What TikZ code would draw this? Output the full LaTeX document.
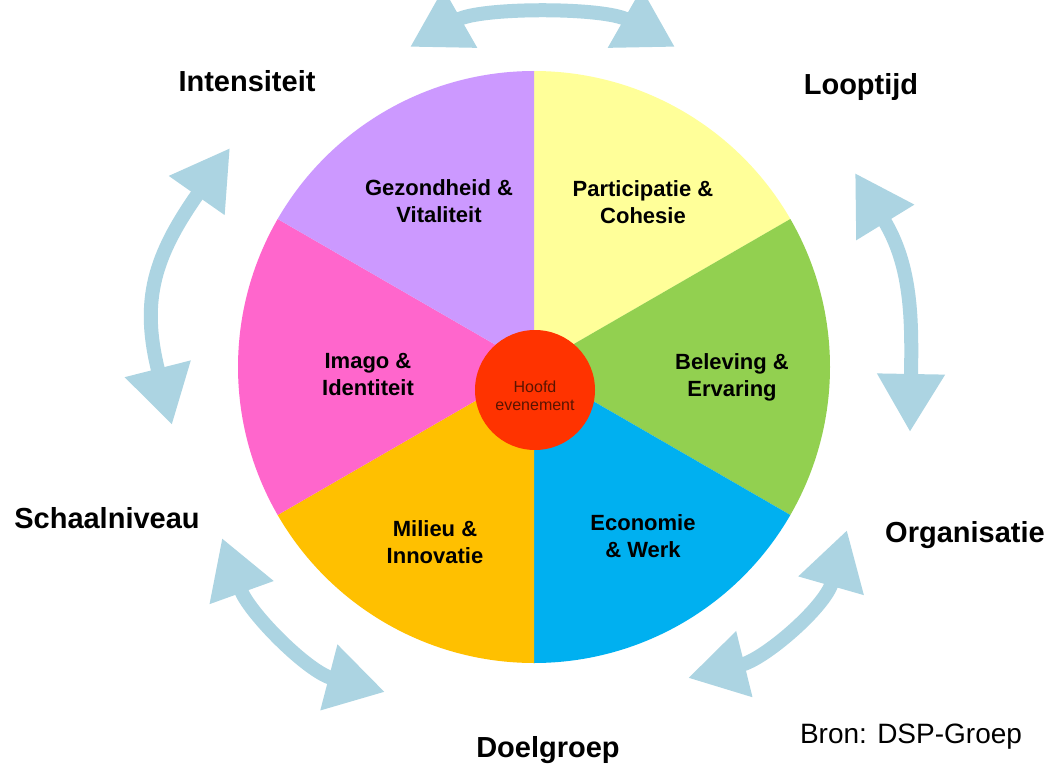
\documentclass[tikz,border=0pt]{standalone}
\usepackage{fontspec}
\setmainfont{Liberation Sans}
\usetikzlibrary{arrows.meta}
\definecolor{cPurple}{HTML}{CC99FF}
\definecolor{cYellow}{HTML}{FFFF99}
\definecolor{cGreen}{HTML}{92D050}
\definecolor{cBlue}{HTML}{00B0F0}
\definecolor{cOrange}{HTML}{FFC000}
\definecolor{cPink}{HTML}{FF66CC}
\definecolor{cRed}{HTML}{FF3300}
\definecolor{cHub}{RGB}{90,20,0}
\definecolor{cArrow}{RGB}{172,212,226}
\begin{document}
\begin{tikzpicture}[x=1pt,y=-1pt,
  seg/.style={font=\fontsize{22}{27}\selectfont\bfseries, align=center, text=black, inner sep=0},
  outer/.style={font=\fontsize{29}{34}\selectfont\bfseries, anchor=base, inner sep=0},
  cyc/.style={line width=14pt, draw=cArrow,
    {Triangle[length=58pt,width=64pt]}-{Triangle[length=58pt,width=64pt]}}]
\useasboundingbox (0,0) rectangle (1052,765);
\clip (0,0) rectangle (1052,765);
\fill[white] (0,0) rectangle (1052,765);
% pie
\coordinate (C) at (534,367);
\fill[cYellow] (C) -- ++(-90:296) arc[start angle=-90, end angle=-30, radius=296] -- cycle;
\fill[cGreen]  (C) -- ++(-30:296) arc[start angle=-30, end angle=30, radius=296] -- cycle;
\fill[cBlue]   (C) -- ++(30:296) arc[start angle=30, end angle=90, radius=296] -- cycle;
\fill[cOrange] (C) -- ++(90:296) arc[start angle=90, end angle=150, radius=296] -- cycle;
\fill[cPink]   (C) -- ++(150:296) arc[start angle=150, end angle=210, radius=296] -- cycle;
\fill[cPurple] (C) -- ++(210:296) arc[start angle=210, end angle=270, radius=296] -- cycle;
% hub
\node[circle, fill=cRed, minimum size=120pt, inner sep=0] (hub) at (535,390) {};
\node[font=\fontsize{16}{18}\selectfont, text=cHub, align=center, inner sep=0] (hubtext) at (535,396) {Hoofd\\evenement};
% segment labels
\node[seg] (gez) at (439,201) {Gezondheid \&\\Vitaliteit};
\node[seg] (par) at (643,202) {Participatie \&\\Cohesie};
\node[seg] (ima) at (368,374) {Imago \&\\Identiteit};
\node[seg] (bel) at (732,377) {Beleving \&\\Ervaring};
\node[seg] (mil) at (435,542) {Milieu \&\\Innovatie};
\node[seg] (eco) at (643,536) {Economie\\\& Werk};
% outer labels
\node[outer] (int) at (247,92) {Intensiteit};
\node[outer] (loo) at (861,95) {Looptijd};
\node[outer] (sch) at (107,528) {Schaalniveau};
\node[outer] (org) at (965,542) {Organisatie};
\node[outer] (doe) at (548,757) {Doelgroep};
\node[font=\fontsize{28}{32}\selectfont, anchor=base, inner sep=0] (bron) at (911,743) {Bron: DSP-Groep};
% cycle arrows
\coordinate (a1) at (410,47);  \coordinate (a2) at (675,47);
\coordinate (b1) at (855,173); \coordinate (b2) at (910,432);
\coordinate (c1) at (847,530); \coordinate (c2) at (688,678);
\coordinate (d1) at (385,692); \coordinate (d2) at (222,538);
\coordinate (e1) at (172,425); \coordinate (e2) at (230,148);
\draw[cyc] (a1) .. controls (480,7) and (605,7) .. (a2);
\draw[cyc] (b1) .. controls (912,266) and (912,320) .. (b2);
\draw[cyc] (c1) .. controls (825,607) and (765,659) .. (c2);
\draw[cyc] (d1) .. controls (308,672) and (249,613) .. (d2);
\draw[cyc] (e1) .. controls (140,299) and (155,255) .. (e2);
\end{tikzpicture}
\end{document}
